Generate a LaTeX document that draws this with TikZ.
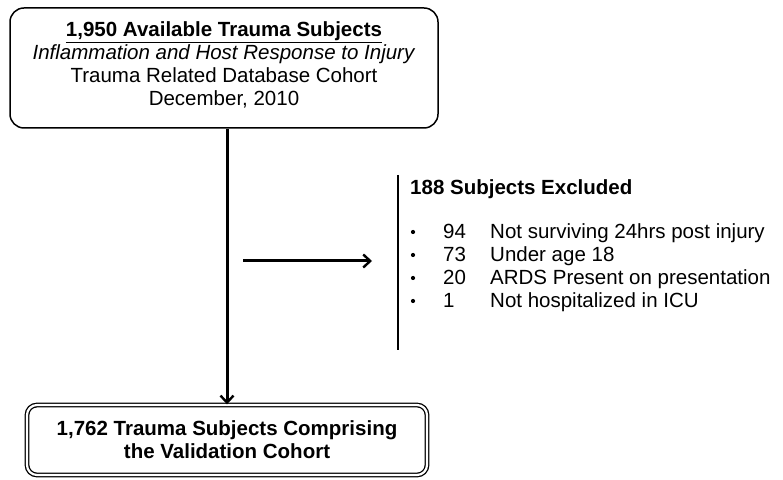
\documentclass[tikz,border=0pt]{standalone}
\usepackage{fontspec}
\setmainfont{Liberation Sans}
\usepackage{tikz}
\usetikzlibrary{positioning,calc,arrows.meta}

\begin{document}
\begin{tikzpicture}[x=1pt,y=1pt,
    cohort/.style={rectangle, draw, rounded corners=14pt, line width=1.5pt, align=center, inner sep=0pt,
        font=\fontsize{20.5pt}{23pt}\selectfont},
    final/.style={cohort, rounded corners=10pt, double, double distance=2.2pt, line width=1.3pt},
    flow/.style={line width=3pt, -{Straight Barb[length=7pt,width=13pt,line width=2.4pt]}},
    excl/.style={anchor=base west, inner sep=0pt, font=\fontsize{20.5pt}{23pt}\selectfont},
    dot/.style={circle, fill, inner sep=0pt, minimum size=4.2pt}]
    \useasboundingbox (0,0) rectangle (783,479);

    % Source cohort
    \node [cohort, minimum width=428pt, minimum height=120pt] (source) at (224,411) {
        \underline{\textbf{1,950 Available Trauma Subjects}} \\
        \textit{Inflammation and Host Response to Injury} \\
        Trauma Related Database Cohort \\
        December, 2010\rule[-8pt]{0pt}{0pt}
    };

    % Validation cohort
    \node [final, minimum width=400pt, minimum height=70pt] (valid) at (227,39) {
        \textbf{1,762 Trauma Subjects Comprising} \\
        \textbf{the Validation Cohort}
    };

    \draw [flow] (source.south -| valid.north) -- (valid.north);

    % Exclusions
    \coordinate (arrstart) at (243,218);
    \coordinate (arrend) at (372,218);
    \draw [flow] (arrstart) -- (arrend);

    \coordinate (bartop) at (398,304);
    \coordinate (barbot) at (398,129);
    \draw [line width=2pt] (bartop) -- (barbot);

    \node [excl] (excltitle) at (410,284) {\textbf{188 Subjects Excluded}};
    \foreach \num/\why [count=\i] in {94/Not surviving 24hrs post injury, 73/Under age 18,
        20/ARDS Present on presentation, 1/Not hospitalized in ICU} {
        \node [dot] (bul\i) at (413,270-23*\i) {};
        \node [excl] (num\i) at (443,263-23*\i) {\num};
        \node [excl] (why\i) at (490,263-23*\i) {\why};
    }
\end{tikzpicture}
\end{document}
